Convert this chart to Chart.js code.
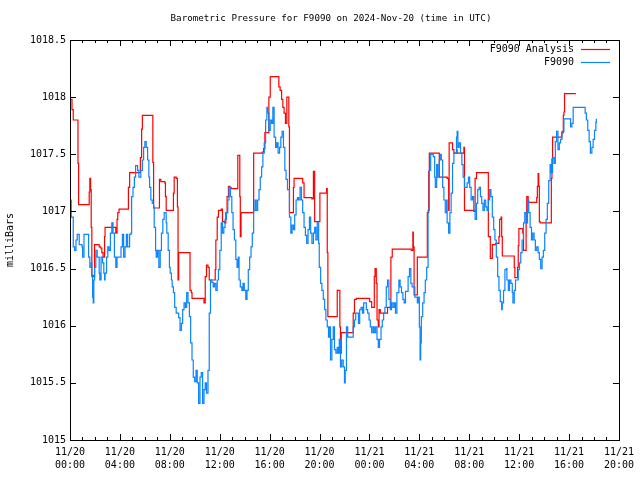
<!DOCTYPE html>
<html>
<head>
<meta charset="utf-8">
<script src="https://cdn.jsdelivr.net/npm/chart.js@4.4.1/dist/chart.umd.min.js"></script>
<style>
html,body{margin:0;padding:0;background:#fff;}
#wrap{width:640px;height:480px;position:relative;}
</style>
</head>
<body>
<div id="wrap"><canvas id="c" width="640" height="480"></canvas></div>
<script>
const chartTitle = 'Barometric Pressure for F9090 on 2024-Nov-20 (time in UTC)';
const yAxisTitle = 'milliBars';
const seriesNames = ['F9090 Analysis', 'F9090'];
const xTickLabels = [
  ['11/20','00:00'],['11/20','04:00'],['11/20','08:00'],['11/20','12:00'],
  ['11/20','16:00'],['11/20','20:00'],['11/21','00:00'],['11/21','04:00'],
  ['11/21','08:00'],['11/21','12:00'],['11/21','16:00'],['11/21','20:00']
];
const yTickLabels = ['1015','1015.5','1016','1016.5','1017','1017.5','1018','1018.5'];

// hours since 11/20 00:00 UTC
const analysisTimes = [0.00,0.16,0.26,0.53,0.64,0.69,1.49,1.54,1.59,1.65,1.70,1.75,1.86,1.97,2.23,2.34,2.45,2.55,2.65,2.77,2.81,3.56,3.67,3.77,3.83,3.93,4.57,4.68,4.78,5.48,5.64,5.74,5.80,6.54,6.64,6.70,7.07,7.17,7.28,7.60,7.65,7.71,8.23,8.29,8.35,8.51,8.61,8.66,8.71,9.57,9.62,9.72,9.78,10.68,10.74,10.84,10.94,11.06,11.16,11.58,11.64,11.69,11.80,11.90,12.12,12.22,12.38,12.49,12.59,12.70,12.81,12.91,13.34,13.45,13.55,13.61,13.65,13.71,14.67,14.72,15.41,15.52,15.62,15.94,16.05,16.64,16.74,16.84,16.96,17.06,17.16,17.27,17.38,17.48,17.54,17.59,17.75,17.91,17.96,18.55,18.65,18.76,19.39,19.51,19.61,19.93,20.03,20.51,20.57,20.62,20.67,21.36,21.42,21.58,21.63,21.68,21.74,22.58,22.70,22.80,22.96,23.59,24.02,24.18,24.34,24.39,24.45,24.55,24.61,24.71,24.77,24.87,25.35,25.45,25.67,25.72,25.83,27.36,27.48,27.52,27.58,27.80,27.84,28.59,28.64,28.75,28.80,29.49,29.60,30.23,30.35,30.39,30.55,30.66,30.77,30.93,30.98,31.03,31.35,31.57,31.62,32.36,32.47,32.58,33.48,33.53,33.64,33.69,33.80,33.85,34.12,34.33,34.38,34.44,34.55,34.60,34.65,35.50,35.61,35.66,35.82,35.87,35.93,35.98,36.24,36.29,36.35,36.51,36.56,36.61,36.72,37.30,37.41,37.46,37.52,37.57,37.62,37.68,38.53,38.58,38.63,38.68,39.32,39.43,39.54,39.59,39.64,40.55];
const analysisValues = [1017.98,1017.89,1017.80,1017.80,1017.42,1017.06,1017.06,1017.17,1017.29,1017.19,1016.86,1016.44,1016.43,1016.71,1016.71,1016.69,1016.68,1016.64,1016.60,1016.78,1016.86,1016.86,1016.81,1016.93,1016.99,1017.02,1017.02,1017.21,1017.34,1017.34,1017.47,1017.72,1017.84,1017.84,1017.43,1017.03,1017.03,1017.28,1017.26,1017.25,1017.13,1017.01,1017.01,1017.16,1017.30,1017.29,1017.04,1016.40,1016.64,1016.64,1016.31,1016.29,1016.24,1016.24,1016.20,1016.43,1016.53,1016.51,1016.40,1016.40,1016.49,1016.75,1016.95,1017.01,1017.02,1016.91,1016.90,1016.99,1017.13,1017.22,1017.21,1017.20,1017.20,1017.49,1017.49,1017.13,1016.78,1016.99,1016.99,1017.51,1017.52,1017.55,1017.69,1018.00,1018.18,1018.18,1018.09,1018.06,1017.98,1017.91,1017.86,1017.77,1018.00,1018.00,1017.74,1016.99,1016.99,1017.21,1017.29,1017.29,1017.25,1017.12,1017.11,1017.35,1016.91,1016.91,1017.16,1017.16,1017.20,1016.64,1016.08,1016.08,1016.31,1016.31,1015.99,1015.76,1015.94,1015.94,1016.11,1016.23,1016.24,1016.24,1016.21,1016.16,1016.16,1016.43,1016.50,1016.37,1016.05,1015.99,1016.14,1016.11,1016.11,1016.16,1016.16,1016.60,1016.67,1016.66,1016.82,1016.69,1016.27,1016.27,1016.60,1016.60,1016.99,1017.35,1017.51,1017.51,1017.30,1017.29,1017.01,1017.60,1017.60,1017.54,1017.51,1017.51,1017.54,1017.51,1017.51,1017.56,1017.01,1017.00,1017.29,1017.34,1017.34,1016.78,1016.78,1016.59,1016.59,1016.71,1016.72,1016.72,1016.78,1016.93,1016.95,1016.78,1016.61,1016.61,1016.51,1016.42,1016.42,1016.51,1016.70,1016.85,1016.85,1016.81,1016.66,1016.66,1016.90,1017.13,1017.08,1017.08,1017.12,1017.22,1017.33,1017.22,1016.91,1016.90,1016.90,1017.29,1017.46,1017.65,1017.65,1017.69,1017.84,1017.87,1018.03,1018.03];

const stationTimes = [0.00,0.06,0.10,0.26,0.37,0.48,0.58,0.74,0.96,1.01,1.12,1.38,1.49,1.59,1.70,1.75,1.81,1.86,1.91,1.97,2.07,2.18,2.34,2.39,2.49,2.61,2.71,2.77,2.81,2.93,3.03,3.13,3.24,3.35,3.45,3.56,3.67,3.77,3.88,4.09,4.20,4.30,4.41,4.52,4.62,4.78,4.89,4.94,5.05,5.16,5.26,5.42,5.52,5.68,5.80,5.90,6.00,6.11,6.22,6.32,6.38,6.48,6.59,6.70,6.75,6.86,6.91,7.01,7.12,7.23,7.33,7.44,7.55,7.65,7.71,7.76,7.87,7.97,8.03,8.13,8.19,8.29,8.39,8.51,8.71,8.82,8.93,9.03,9.14,9.25,9.35,9.46,9.57,9.67,9.78,9.88,9.99,10.10,10.20,10.31,10.42,10.52,10.63,10.74,10.84,10.94,11.06,11.16,11.26,11.37,11.48,11.58,11.69,11.80,11.90,12.01,12.12,12.22,12.33,12.43,12.54,12.65,12.75,12.86,12.97,13.07,13.18,13.29,13.39,13.49,13.55,13.65,13.77,13.87,13.97,14.09,14.19,14.29,14.40,14.51,14.61,14.72,14.83,14.93,15.04,15.15,15.25,15.36,15.46,15.57,15.68,15.78,15.84,15.94,16.05,16.16,16.26,16.36,16.48,16.58,16.68,16.80,16.90,17.00,17.11,17.22,17.32,17.43,17.59,17.70,17.80,17.91,18.01,18.12,18.23,18.33,18.44,18.55,18.65,18.76,18.87,18.97,19.08,19.19,19.29,19.39,19.51,19.61,19.71,19.82,19.93,19.98,20.09,20.19,20.30,20.41,20.51,20.62,20.72,20.78,20.88,20.99,21.10,21.20,21.31,21.42,21.52,21.58,21.68,21.78,21.90,22.00,22.06,22.16,22.26,22.58,22.70,22.80,22.90,23.01,23.12,23.22,23.33,23.44,23.54,23.65,23.75,23.86,23.97,24.07,24.18,24.29,24.39,24.50,24.61,24.71,24.81,24.93,25.03,25.14,25.24,25.35,25.45,25.56,25.67,25.77,25.88,25.99,26.09,26.20,26.36,26.46,26.57,26.68,26.78,26.89,27.10,27.21,27.32,27.42,27.64,27.84,27.90,28.00,28.06,28.11,28.16,28.27,28.38,28.48,28.59,28.70,28.80,28.91,29.01,29.12,29.23,29.28,29.39,29.49,29.60,29.71,29.76,29.87,29.97,30.08,30.19,30.23,30.35,30.45,30.55,30.66,30.77,30.87,30.98,31.03,31.09,31.19,31.30,31.41,31.51,31.62,31.73,31.83,31.94,32.04,32.15,32.26,32.36,32.47,32.58,32.68,32.79,32.90,33.00,33.10,33.21,33.32,33.42,33.53,33.64,33.74,33.85,33.96,34.06,34.17,34.28,34.38,34.49,34.60,34.65,34.75,34.86,34.97,35.02,35.13,35.23,35.34,35.45,35.50,35.61,35.71,35.93,36.03,36.13,36.24,36.35,36.45,36.56,36.67,36.77,36.88,36.99,37.09,37.20,37.30,37.41,37.52,37.62,37.73,37.84,37.94,38.05,38.16,38.26,38.37,38.48,38.58,38.68,38.80,38.90,39.00,39.11,39.22,39.32,39.43,39.54,39.59,39.96,40.12,40.23,40.33,41.19,41.29,41.39,41.50,41.61,41.71,41.83,41.93,42.04,42.15,42.19];
const stationValues = [1017.10,1017.10,1016.95,1016.69,1016.66,1016.75,1016.80,1016.71,1016.69,1016.60,1016.80,1016.80,1016.60,1016.51,1016.55,1016.43,1016.25,1016.20,1016.40,1016.51,1016.66,1016.60,1016.46,1016.40,1016.60,1016.55,1016.46,1016.40,1016.46,1016.60,1016.69,1016.66,1016.81,1016.90,1016.81,1016.60,1016.51,1016.60,1016.60,1016.69,1016.80,1016.60,1016.69,1016.80,1016.69,1016.80,1016.81,1017.13,1017.21,1017.30,1017.40,1017.36,1017.30,1017.36,1017.45,1017.56,1017.61,1017.56,1017.45,1017.30,1017.21,1017.10,1017.07,1017.04,1016.86,1016.66,1016.60,1016.66,1016.51,1016.66,1016.81,1016.93,1016.99,1016.99,1016.90,1016.81,1016.66,1016.51,1016.46,1016.40,1016.34,1016.29,1016.16,1016.11,1016.07,1015.96,1016.02,1016.14,1016.20,1016.16,1016.29,1016.20,1016.08,1015.85,1015.70,1015.55,1015.51,1015.61,1015.50,1015.32,1015.55,1015.59,1015.32,1015.44,1015.50,1015.41,1015.61,1016.11,1016.40,1016.38,1016.34,1016.37,1016.31,1016.40,1016.49,1016.66,1016.90,1016.81,1016.86,1016.93,1016.99,1017.10,1017.21,1017.13,1016.99,1016.84,1016.75,1016.58,1016.51,1016.60,1016.40,1016.34,1016.31,1016.37,1016.31,1016.23,1016.31,1016.49,1016.60,1016.69,1016.81,1017.01,1017.10,1017.01,1017.10,1017.19,1017.30,1017.39,1017.51,1017.60,1017.80,1017.91,1017.86,1017.71,1017.80,1017.77,1017.91,1017.65,1017.56,1017.60,1017.51,1017.56,1017.65,1017.70,1017.56,1017.36,1017.28,1017.19,1016.95,1016.81,1016.88,1016.84,1016.97,1017.10,1017.12,1017.10,1017.21,1017.10,1016.99,1016.86,1016.79,1016.72,1016.84,1016.95,1016.81,1016.72,1016.81,1016.86,1016.75,1016.90,1016.72,1016.51,1016.37,1016.31,1016.23,1016.14,1016.05,1015.99,1015.90,1015.99,1015.70,1015.88,1015.99,1015.79,1015.76,1015.81,1015.76,1015.88,1015.64,1015.70,1015.64,1015.50,1015.61,1015.99,1015.90,1015.90,1015.99,1016.05,1016.11,1016.11,1016.02,1016.14,1016.16,1016.11,1016.20,1016.20,1016.14,1016.11,1016.05,1015.99,1015.94,1015.99,1015.94,1015.99,1015.88,1015.81,1015.88,1015.99,1016.05,1016.11,1016.16,1016.34,1016.40,1016.23,1016.14,1016.20,1016.16,1016.20,1016.11,1016.29,1016.40,1016.34,1016.29,1016.23,1016.20,1016.30,1016.43,1016.50,1016.37,1016.34,1016.25,1016.20,1016.25,1015.99,1015.70,1015.85,1016.08,1016.20,1016.29,1016.40,1016.51,1017.01,1017.36,1017.50,1017.50,1017.48,1017.30,1017.21,1017.41,1017.30,1017.45,1017.50,1017.45,1017.21,1017.10,1016.99,1017.10,1016.90,1016.81,1016.99,1017.16,1017.42,1017.51,1017.51,1017.65,1017.70,1017.56,1017.60,1017.51,1017.41,1017.30,1017.21,1017.21,1017.25,1017.30,1017.21,1017.10,1017.13,1017.01,1016.93,1017.07,1017.19,1017.21,1017.13,1017.07,1017.01,1017.10,1017.04,1017.01,1017.10,1017.19,1017.13,1016.95,1016.84,1016.75,1016.60,1016.43,1016.31,1016.21,1016.14,1016.20,1016.31,1016.49,1016.50,1016.40,1016.31,1016.40,1016.37,1016.29,1016.20,1016.31,1016.40,1016.49,1016.55,1016.64,1016.75,1016.90,1016.99,1016.90,1017.10,1016.99,1016.86,1016.75,1016.81,1016.75,1016.66,1016.69,1016.64,1016.58,1016.50,1016.60,1016.66,1016.81,1016.93,1017.07,1017.27,1017.41,1017.34,1017.47,1017.42,1017.61,1017.70,1017.54,1017.60,1017.63,1017.70,1017.70,1017.81,1017.81,1017.74,1017.77,1017.91,1017.91,1017.86,1017.80,1017.71,1017.61,1017.51,1017.56,1017.63,1017.71,1017.78,1017.81];

const FONT = 'DejaVu Sans Mono';
const toPoints = (t, v) => t.map((x, i) => ({x: x, y: v[i]}));

const decor = {
  id: 'decor',
  afterDatasetsDraw(chart) {
    const {ctx, chartArea: a, scales} = chart;
    const xs = scales.x, ys = scales.y;
    ctx.save();
    ctx.strokeStyle = '#000';
    ctx.lineWidth = 1;
    ctx.beginPath();
    for (let h = 0; h <= 44; h++) {
      const px = Math.round(xs.getPixelForValue(h)) + 0.5;
      const len = (h % 4 === 0) ? 6 : 3;
      ctx.moveTo(px, a.bottom); ctx.lineTo(px, a.bottom - len);
      ctx.moveTo(px, a.top); ctx.lineTo(px, a.top + len);
    }
    for (let i = 0; i < yTickLabels.length; i++) {
      const py = Math.round(ys.getPixelForValue(parseFloat(yTickLabels[i]))) + 0.5;
      ctx.moveTo(a.left, py); ctx.lineTo(a.left + 6, py);
      ctx.moveTo(a.right, py); ctx.lineTo(a.right - 6, py);
    }
    ctx.stroke();
    ctx.strokeRect(Math.round(a.left) + 0.5, Math.round(a.top) + 0.5, Math.round(a.right - a.left), Math.round(a.bottom - a.top));
    // legend
    ctx.font = '10px "' + FONT + '"';
    ctx.fillStyle = '#000';
    ctx.textAlign = 'right';
    ctx.textBaseline = 'middle';
    const colors = ['#ff0000', '#0a84ff'];
    for (let i = 0; i < 2; i++) {
      const ly = 49 + i * 13;
      ctx.fillText(seriesNames[i], 574, ly);
      ctx.strokeStyle = colors[i];
      ctx.lineWidth = 1.2;
      ctx.beginPath();
      ctx.moveTo(581, ly + 0.5); ctx.lineTo(610, ly + 0.5);
      ctx.stroke();
    }
    // title
    ctx.font = '9.2px "' + FONT + '"';
    ctx.textAlign = 'center';
    ctx.fillText(chartTitle, 331, 19);
    // y-axis title
    ctx.font = '10px "' + FONT + '"';
    ctx.translate(10, 240);
    ctx.rotate(-Math.PI / 2);
    ctx.fillText(yAxisTitle, 0, 0);
    ctx.restore();
  }
};

new Chart(document.getElementById('c'), {
  type: 'line',
  data: {
    datasets: [
      {label: seriesNames[0], data: toPoints(analysisTimes, analysisValues), borderColor: '#ff0000', borderWidth: 1.2, pointRadius: 0, stepped: true, fill: false, order: 1},
      {label: seriesNames[1], data: toPoints(stationTimes, stationValues), borderColor: '#0a84ff', borderWidth: 1.2, pointRadius: 0, stepped: true, fill: false, order: 0}
    ]
  },
  options: {
    responsive: false,
    animation: false,
    events: [],
    layout: {padding: {left: 0, right: 18, top: 40, bottom: 0}},
    plugins: {legend: {display: false}, title: {display: false}, tooltip: {enabled: false}},
    scales: {
      x: {
        type: 'linear', min: 0, max: 44,
        grid: {display: false, drawTicks: false},
        border: {display: false},
        afterFit: s => { s.height = 40; },
        ticks: {
          stepSize: 4, autoSkip: false, maxRotation: 0, padding: 6,
          color: '#000', font: {family: FONT, size: 10, lineHeight: 1.3},
          callback: v => xTickLabels[Math.round(v / 4)]
        }
      },
      y: {
        min: 1015, max: 1018.5,
        grid: {display: false, drawTicks: false},
        border: {display: false},
        afterFit: s => { s.width = 70; },
        ticks: {
          stepSize: 0.5, padding: 4, color: '#000',
          font: {family: FONT, size: 10},
          callback: (v) => { const i = Math.round((v - 1015) / 0.5); return yTickLabels[i]; }
        }
      }
    }
  },
  plugins: [decor]
});
</script>
</body>
</html>
